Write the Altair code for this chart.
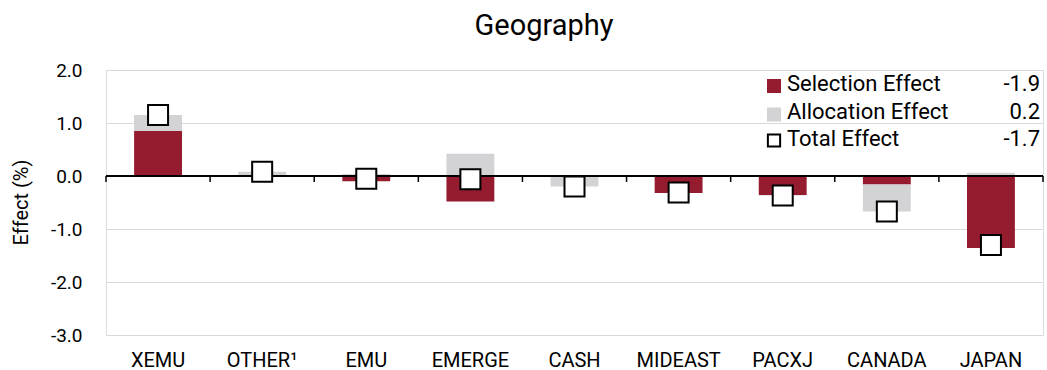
import altair as alt
import pandas as pd

# Attribution by region (percentage points)
regions = ["XEMU", "OTHER¹", "EMU", "EMERGE", "CASH", "MIDEAST", "PACXJ", "CANADA", "JAPAN"]
selection = [0.85, 0.00, -0.10, -0.48, 0.00, -0.32, -0.36, -0.16, -1.36]
allocation = [0.30, 0.08, 0.04, 0.42, -0.20, 0.00, -0.01, -0.51, 0.06]
total = [1.15, 0.08, -0.05, -0.06, -0.20, -0.31, -0.37, -0.67, -1.30]

RED = "#951b2f"
GREY = "#d3d3d5"
FONT = "Roboto"

effect_names = ["Selection Effect", "Allocation Effect"]
rows = []
for i, r in enumerate(regions):
    rows.append({"region": r, "effect": effect_names[0], "value": selection[i], "k": 0})
    rows.append({"region": r, "effect": effect_names[1], "value": allocation[i], "k": 1})
bars_df = pd.DataFrame(rows)
n = len(regions)
# slot centre of each region on a 0..n index scale
tot_df = pd.DataFrame({"region": regions, "slot": [i + 0.5 for i in range(n)],
                       "total": total})
edges_df = pd.DataFrame({"edge": list(range(n + 1)), "zero": [0.0] * (n + 1)})

# one full step per region; bar width set on the mark
xscale = alt.Scale(paddingInner=0, paddingOuter=0)
ydom = alt.Scale(domain=[-3, 2], nice=False, zero=False)
slot_scale = alt.Scale(domain=[0, n], nice=False, zero=False)

bars = alt.Chart(bars_df).mark_bar(width=alt.RelativeBandSize(0.46)).encode(
    x=alt.X("region:N", sort=regions, scale=xscale, title=None,
            axis=alt.Axis(orient="bottom", domain=False, ticks=False, grid=False,
                          labelAngle=0, labelFont=FONT, labelFontSize=20,
                          labelColor="black", labelBaseline="alphabetic",
                          labelPadding=31)),
    y=alt.Y("value:Q", stack="zero", scale=ydom,
            axis=alt.Axis(values=[-3, -2, -1, 0, 1, 2], domain=False,
                          labelExpr="replace(format(datum.value, '.1f'), '\u2212', '-')",
                          ticks=False, grid=True, gridColor="#d9d9d9", gridWidth=1,
                          labelFont=FONT, labelFontSize=19, labelColor="black",
                          labelPadding=24, title="Effect (%)", titleFont=FONT,
                          titleFontSize=20, titleFontWeight="normal",
                          titleColor="black", titleAngle=270, titleX=-79,
                          titleY=132, titleBaseline="alphabetic")),
    color=alt.Color("effect:N", scale=alt.Scale(domain=effect_names, range=[RED, GREY]),
                    legend=None),
    order=alt.Order("k:Q", sort="ascending"),
)

# zero line with short ticks hanging below it at the region boundaries
zero_line = alt.Chart(edges_df).mark_rule(color="black", strokeWidth=1.5).encode(
    y=alt.Y("zero:Q", scale=ydom), x=alt.value(0), x2=alt.value(937))
edge_ticks = alt.Chart(edges_df).mark_tick(orient="vertical", size=6, thickness=1.5,
                                            yOffset=3, color="black",
                                            opacity=1).encode(
    x=alt.X("edge:Q", scale=slot_scale, axis=None),
    y=alt.Y("zero:Q"))

totals = alt.Chart(tot_df).mark_square(size=400, filled=True, fill="white",
                                       stroke="black", strokeWidth=2, opacity=1).encode(
    x=alt.X("slot:Q", scale=slot_scale, axis=None),
    y=alt.Y("total:Q"),
)

# Legend block: symbol, label and the summed value of each effect
leg_names = ["Selection Effect", "Allocation Effect", "Total Effect"]
leg_values = [f"{v:.1f}" for v in (sum(selection), sum(allocation), sum(total))]
leg_layers = []
sym_y = [16, 44.5, 70.5]
txt_y = [21, 49, 76]
for i, name in enumerate(leg_names):
    d = pd.DataFrame({"name": [name], "v": [leg_values[i]]})
    base = alt.Chart(d)
    if i < 2:
        sym = base.mark_square(size=196, filled=True, color=[RED, GREY][i], opacity=1)
    else:
        sym = base.mark_square(size=150, filled=True, fill="white", stroke="black",
                               strokeWidth=2, opacity=1)
    leg_layers.append(sym.encode(x=alt.value(668), y=alt.value(sym_y[i])))
    leg_layers.append(base.mark_text(align="left", baseline="alphabetic", font=FONT,
                                     fontSize=22, color="black").encode(
        x=alt.value(681), y=alt.value(txt_y[i]), text="name:N"))
    leg_layers.append(base.mark_text(align="right", baseline="alphabetic", font=FONT,
                                     fontSize=22, color="black").encode(
        x=alt.value(934), y=alt.value(txt_y[i]), text="v:N"))

title = alt.Chart(pd.DataFrame({"t": ["Geography"]})).mark_text(
    align="center", baseline="alphabetic", font=FONT, fontSize=29, color="black"
).encode(x=alt.value(438), y=alt.value(-35), text="t:N")

chart = alt.layer(
    bars, zero_line, edge_ticks, totals, *leg_layers, title,
).resolve_scale(x="independent").properties(
    width=937, height=265,
    autosize=alt.AutoSizeParams(type="none"),
    padding={"left": 106, "top": 70, "right": 4, "bottom": 35},
).configure_view(stroke=None).configure(background="white")

chart.save("out.html", embed_options={"renderer": "svg", "actions": False})
